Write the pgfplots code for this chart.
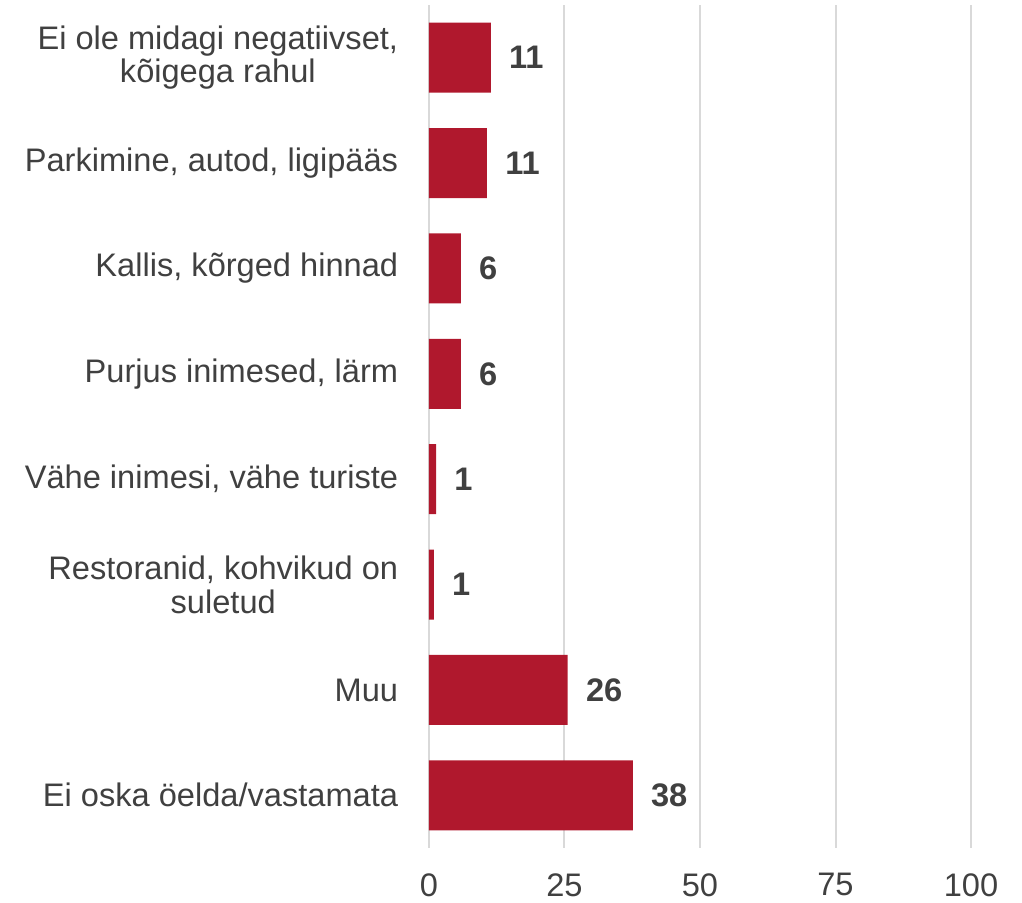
\documentclass[border=0pt]{standalone}
\usepackage{pgfplots}
\pgfplotsset{compat=1.18}
\usepackage{fontspec}
\setmainfont{Liberation Sans}
\definecolor{barred}{HTML}{B0182D}
\definecolor{txt}{HTML}{404040}
\definecolor{gridc}{HTML}{D9D9D9}
\begin{document}
\fontsize{16.3}{16.5}\selectfont
\begin{tikzpicture}
\path[use as bounding box] (-214.5pt,-27pt) rectangle (296.5pt,424pt);
\begin{axis}[
  at={(0,0)}, anchor=south west,
  scale only axis, width=271pt, height=421.5pt,
  xbar, bar width=35pt, bar shift=0pt,
  xmin=0, xmax=100, ymin=-0.5, ymax=7.5, y dir=reverse,
  xtick={0,25,50,75,100},
  ytick={0,1,2,3,4,5,6,7},
  yticklabels={{Ei ole midagi negatiivset,\\kõigega rahul},{Parkimine, autod, ligipääs},{Kallis, kõrged hinnad},{Purjus inimesed, lärm},{Vähe inimesi, vähe turiste},{Restoranid, kohvikud on\\suletud},{Muu},{Ei oska öelda/vastamata}},
  yticklabel style={align=center, text=txt, font=\fontsize{16.3}{16.8}\selectfont, xshift=-9.8pt},
  xticklabel style={text=txt, font=\fontsize{16.3}{16.5}\selectfont, yshift=-7pt},
  /pgf/number format/assume math mode=true,
  major tick length=0pt,
  axis line style={draw=none},
  xmajorgrids, major grid style={gridc, line width=1pt},
  nodes near coords,
  point meta=explicit symbolic,
  every node near coord/.style={anchor=west, xshift=3.5pt, text=txt, font=\fontsize{16.3}{16.5}\selectfont\bfseries},
  clip=false,
]
\addplot[fill=barred, draw=none] coordinates {
(11.4,0) [11]
(10.7,1) [11]
(5.9,2) [6]
(5.9,3) [6]
(1.3,4) [1]
(0.9,5) [1]
(25.6,6) [26]
(37.6,7) [38]
};
\end{axis}
\end{tikzpicture}
\end{document}
